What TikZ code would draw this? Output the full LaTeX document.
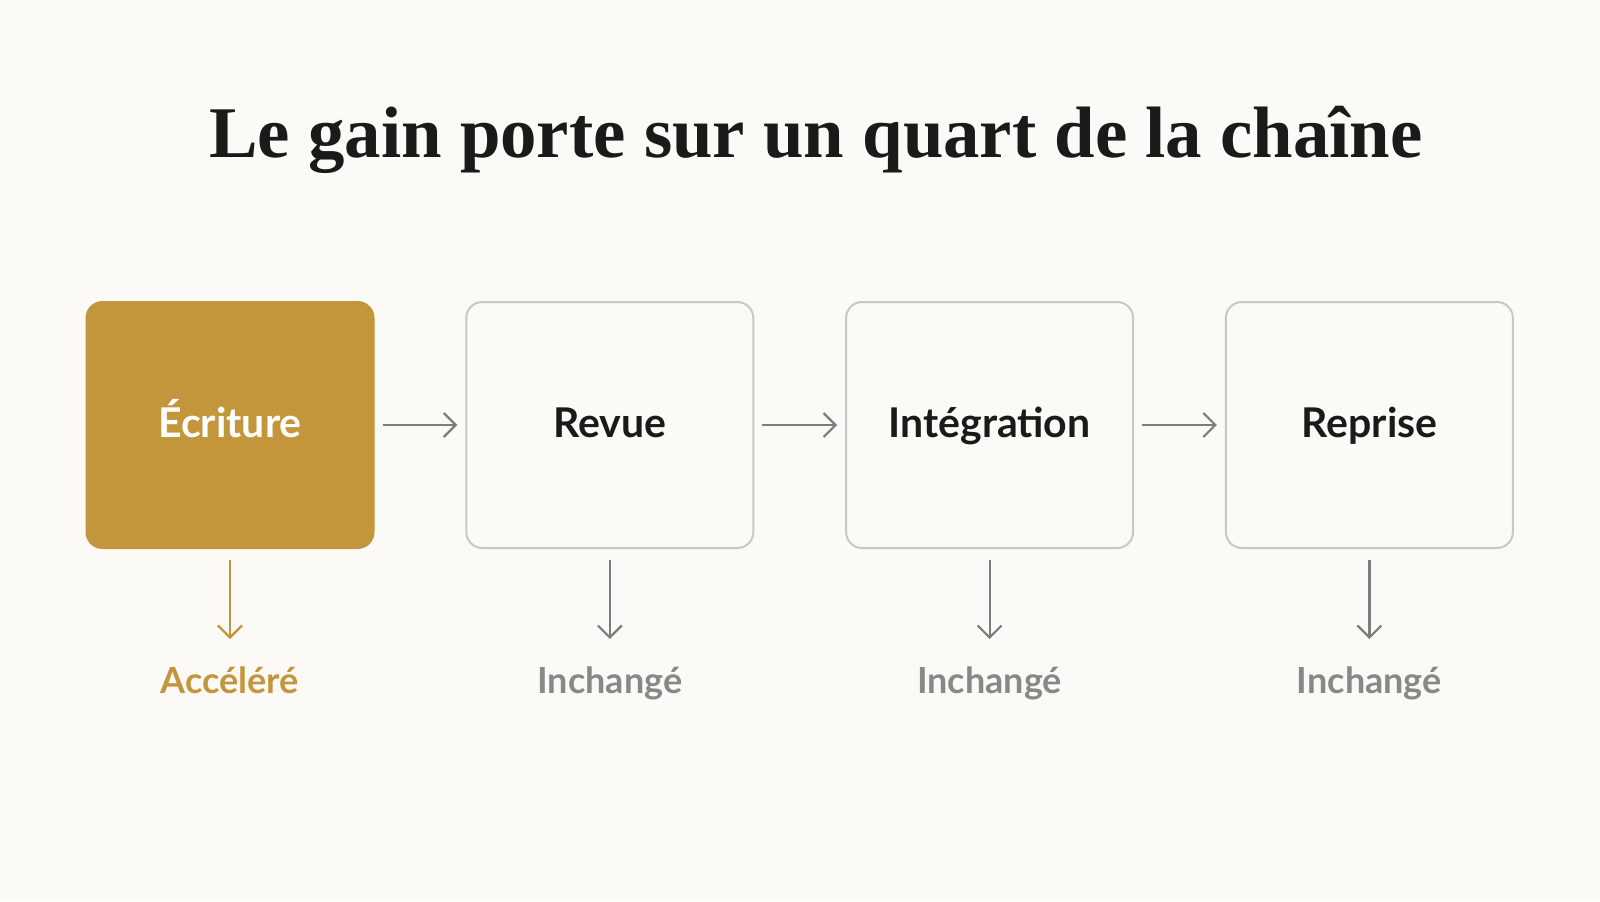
\documentclass[tikz,border=0pt]{standalone}
\usepackage{fontspec}
\setmainfont{Liberation Serif}
\newfontfamily\stagefont{Lato}
\usetikzlibrary{arrows.meta,positioning,calc}
\definecolor{paper}{HTML}{FBFAF6}
\definecolor{ink}{HTML}{1A1A1A}
\definecolor{gold}{HTML}{C4963C}
\definecolor{frame}{HTML}{C8C8C6}
\definecolor{muted}{HTML}{888888}
\definecolor{arrowgray}{HTML}{7D7D7D}
\tikzset{
  stageBox/.style={draw=frame, line width=1pt, rounded corners=8pt, minimum width=143.5pt, minimum height=123pt, text height=16pt, text depth=3.2pt, text=ink, font=\stagefont\bfseries\fontsize{20.5}{24}\selectfont},
  goldBox/.style={stageBox, draw=gold, fill=gold, text=white},
  titleLbl/.style={text=ink, font=\bfseries\fontsize{36.4}{42}\selectfont},
  outLbl/.style={text=muted, inner sep=0pt, font=\stagefont\bfseries\fontsize{18}{21}\selectfont},
  goldLbl/.style={outLbl, text=gold},
  flow/.style={draw=arrowgray, line width=1.1pt, -{Straight Barb[length=6pt,width=12pt]}, shorten <=4pt, shorten >=4pt},
  drop/.style={flow, shorten <=5.5pt, shorten >=0pt},
}

\begin{document}
\begin{tikzpicture}[x=0.5pt, y=-0.5pt, node distance=45.4pt]
  \fill[paper] (0,0) rectangle (1600,901);

  \node[titleLbl, anchor=base] (title) at (816,157) {Le gain porte sur un quart de la chaîne};

  % Stages
  \node[goldBox] (write) at (230,425) {Écriture};
  \node[stageBox, right=of write]  (review) {Revue};
  \node[stageBox, right=of review] (merge)  {Intégration};
  \node[stageBox, right=of merge]  (rework) {Reprise};

  \draw[flow] (write)  -- (review);
  \draw[flow] (review) -- (merge);
  \draw[flow] (merge)  -- (rework);

  % Outcomes
  \coordinate (writeTip)  at ($(write.south)+(0,90)$);
  \coordinate (reviewTip) at ($(review.south)+(0,90)$);
  \coordinate (mergeTip)  at ($(merge.south)+(0,90)$);
  \coordinate (reworkTip) at ($(rework.south)+(0,90)$);

  \draw[drop, draw=gold] (write) -- (writeTip);
  \draw[drop] (review) -- (reviewTip);
  \draw[drop] (merge)  -- (mergeTip);
  \draw[drop] (rework) -- (reworkTip);

  \node[goldLbl, anchor=base] (writeOut)  at ($(write.south)+(0,144)$)  {Accéléré};
  \node[outLbl, anchor=base]  (reviewOut) at ($(review.south)+(0,144)$) {Inchangé};
  \node[outLbl, anchor=base]  (mergeOut)  at ($(merge.south)+(0,144)$)  {Inchangé};
  \node[outLbl, anchor=base]  (reworkOut) at ($(rework.south)+(0,144)$) {Inchangé};
\end{tikzpicture}
\end{document}
